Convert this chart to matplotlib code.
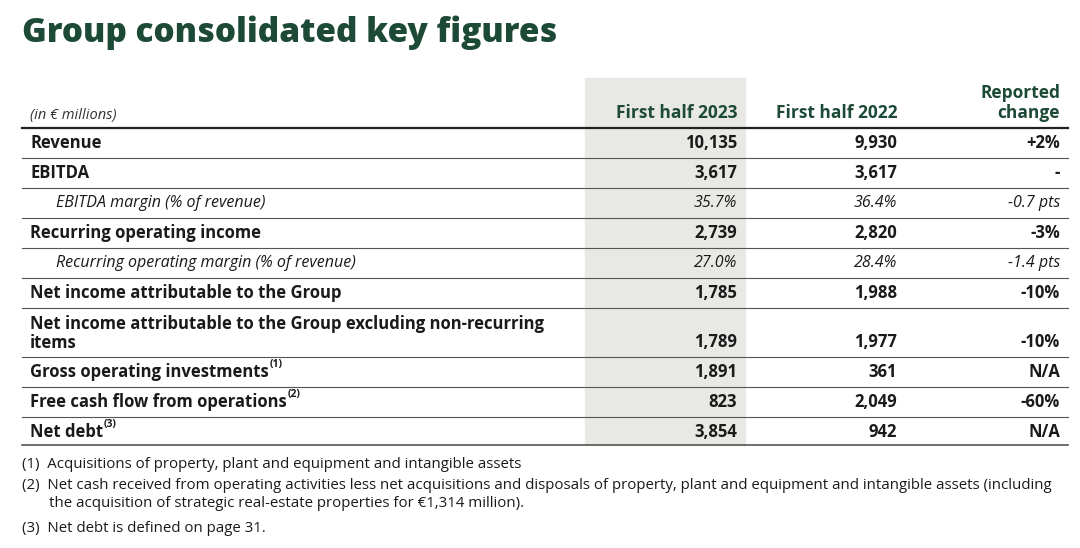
import matplotlib.pyplot as plt

plt.rcParams['font.family'] = ['Open Sans', 'DejaVu Sans']

title = "Group consolidated key figures"
unit_label = "(in € millions)"
col_heads = ["First half 2023", "First half 2022", "Reported\nchange"]

labels = ["Revenue", "EBITDA", "EBITDA margin (% of revenue)",
          "Recurring operating income", "Recurring operating margin (% of revenue)",
          "Net income attributable to the Group",
          "Net income attributable to the Group excluding non-recurring\nitems",
          "Gross operating investments", "Free cash flow from operations", "Net debt"]
notes = ["", "", "", "", "", "", "", "(1)", "(2)", "(3)"]
italic = [False, False, True, False, True, False, False, False, False, False]
h1_2023 = ["10,135", "3,617", "35.7%", "2,739", "27.0%", "1,785", "1,789", "1,891", "823", "3,854"]
h1_2022 = ["9,930", "3,617", "36.4%", "2,820", "28.4%", "1,988", "1,977", "361", "2,049", "942"]
change = ["+2%", "-", "-0.7 pts", "-3%", "-1.4 pts", "-10%", "-10%", "N/A", "-60%", "N/A"]
row_heights = [30, 30, 30, 30, 30, 30, 49, 30, 30, 28]

footnotes = ["(1)  Acquisitions of property, plant and equipment and intangible assets",
             "(2)  Net cash received from operating activities less net acquisitions and disposals of property, plant and equipment and intangible assets (including\n       the acquisition of strategic real-estate properties for €1,314 million).",
             "(3)  Net debt is defined on page 31."]

green = "#1d4a36"
txt = "#1a1a1a"

fig = plt.figure(figsize=(10.8, 5.48), dpi=100)
ax = fig.add_axes([0, 0, 1, 1])
ax.set_xlim(0, 1080)
ax.set_ylim(548, 0)
ax.axis('off')

ax.text(22, 33, title, fontsize=24, fontweight='heavy', color=green, va='center')

x_lab, x_ind = 30, 56
col_x = [737, 897, 1060]
top = 128
total = sum(row_heights)
ax.add_patch(plt.Rectangle((585, 78), 160, top + total - 78, color="#e8e8e5", zorder=0))

ax.text(x_lab, 115, unit_label, fontsize=10.5, style='italic', color="#333333", va='center')
for x, h in zip(col_x, col_heads):
    ax.text(x, 122, h, fontsize=12.5, fontweight='bold', color=green, ha='right', va='bottom',
            multialignment='right', linespacing=1.15)
ax.plot([22, 1068], [top, top], color="#222222", lw=1.6)

y = top
for i, lab in enumerate(labels):
    h = row_heights[i]
    yc = y + 15 if h <= 30 else y + h - 15
    if italic[i]:
        t = ax.text(x_ind, yc, lab, fontsize=11.5, style='italic', color=txt, va='center')
    elif h > 30:
        t = ax.text(x_lab, yc + 6, lab, fontsize=12, fontweight='bold', color=txt, va='baseline',
                    linespacing=1.1)
    else:
        t = ax.text(x_lab, yc, lab, fontsize=12, fontweight='bold', color=txt, va='center')
    if notes[i]:
        ax.annotate(notes[i], xy=(1, 0.62), xycoords=t, xytext=(0.3, 0), textcoords='offset points',
                    fontsize=7.5, fontweight='bold', color=txt, va='bottom')
    w = 'normal' if italic[i] else 'bold'
    st = 'italic' if italic[i] else 'normal'
    for x, v in zip(col_x, [h1_2023[i], h1_2022[i], change[i]]):
        ax.text(x, yc, v, fontsize=11.5 if italic[i] else 12, fontweight=w, style=st,
                color=txt, ha='right', va='center')
    y += h
    ax.plot([22, 1068], [y, y], color="#555555", lw=0.8 if i < len(labels) - 1 else 1.2)

fy = [465, 478, 528]
for f, yy in zip(footnotes, fy):
    ax.text(22, yy, f, fontsize=10.8, color=txt, va='center' if '\n' not in f else 'top',
            linespacing=1.3)

fig.savefig("out.png", dpi=100)
